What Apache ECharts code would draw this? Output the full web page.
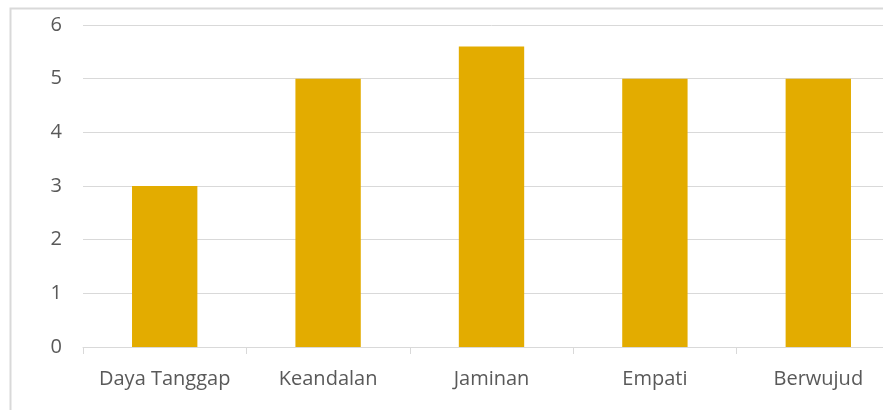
<!DOCTYPE html>
<html><head><meta charset="utf-8">
<script src="https://cdn.jsdelivr.net/npm/echarts@6/dist/echarts.min.js"></script>
<style>html,body{margin:0;padding:0;background:#fff;overflow:hidden;width:883px;height:410px}#c{width:900px;height:410px}</style>
</head><body><div id="c"></div>
<script>
const categories = ['Daya Tanggap', 'Keandalan', 'Jaminan', 'Empati', 'Berwujud'];
const values = [3, 5, 5.6, 5, 5];
const yTicks = [0, 1, 2, 3, 4, 5, 6];

const chart = echarts.init(document.getElementById('c'), null, {renderer: 'canvas'});
const font = '"Open Sans", "Noto Sans", sans-serif';
chart.setOption({
  animation: false,
  grid: {left: 83, top: 25, right: 0, bottom: 63, containLabel: false},
  graphic: [{
    type: 'rect', silent: true,
    shape: {x: 10.5, y: 8.5, width: 1000, height: 1000},
    style: {fill: 'none', stroke: '#d9d9d9', lineWidth: 2}
  }],
  xAxis: {
    type: 'category', data: categories,
    axisLine: {lineStyle: {color: '#d9d9d9', width: 1}},
    axisTick: {show: true, length: 7, lineStyle: {color: '#d9d9d9'}},
    axisLabel: {color: '#595959', fontSize: 20, fontFamily: font, margin: 22, interval: 0}
  },
  yAxis: {
    type: 'value', min: yTicks[0], max: yTicks[yTicks.length - 1], interval: 1,
    axisLine: {show: false}, axisTick: {show: false},
    axisLabel: {color: '#595959', fontSize: 20, fontFamily: font, margin: 21},
    splitLine: {lineStyle: {color: '#d9d9d9', width: 1}}
  },
  series: [{
    type: 'bar', data: values, barWidth: '40%',
    itemStyle: {color: '#E3AC00'}
  }]
});
</script></body></html>
